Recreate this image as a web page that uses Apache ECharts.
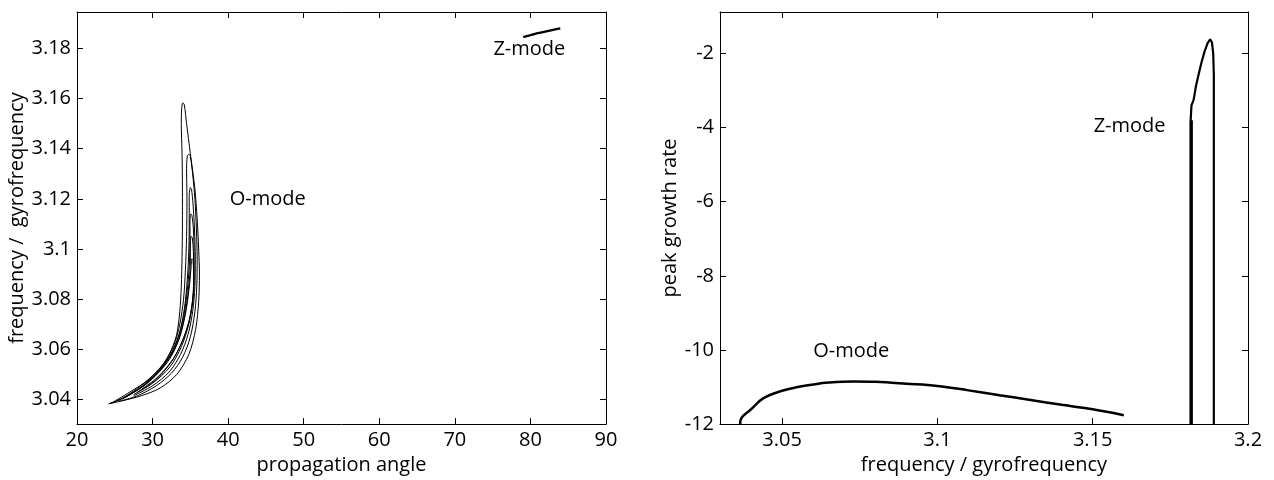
<!DOCTYPE html>
<html>
<head>
<meta charset="utf-8">
<script src="https://cdn.jsdelivr.net/npm/echarts@6/dist/echarts.min.js"></script>
<style>
html,body{margin:0;padding:0;background:#fff;}
#chart{width:1274px;height:480px;}
</style>
</head>
<body>
<div id="chart"></div>
<script>
// ---------- tick labels ----------
const leftXTicks = [20, 30, 40, 50, 60, 70, 80, 90];
const leftYTicks = [3.04, 3.06, 3.08, 3.1, 3.12, 3.14, 3.16, 3.18];
const rightXTicks = [3.05, 3.1, 3.15, 3.2];
const rightYTicks = [-12, -10, -8, -6, -4, -2];

// ---------- left panel: propagation angle vs frequency ----------
const oLoop1 = [[24.2,3.0383],[26,3.0405],[28,3.0445],[30,3.0495],[31.5,3.0545],[32.5,3.0600],[33.2,3.0660],[33.6,3.0750],[33.8,3.0850],[33.9,3.0970],[33.95,3.1100],[33.95,3.1240],[33.9,3.1380],[33.8,3.1500],[33.85,3.1560],[34.0,3.1583],
  [34.2,3.1575],[34.5,3.1500],[35.0,3.1380],[35.6,3.1240],[35.9,3.1120],[36.1,3.1000],[36.2,3.0900],[36.1,3.0790],[35.7,3.0680],[34.8,3.0580],[33.2,3.0500],[31.0,3.0446],[28.5,3.0415],[26,3.0395],[24.2,3.0383]];
const oLoop2 = [[24.5,3.0385],[27,3.043],[29.5,3.048],[31.5,3.0545],[32.8,3.0615],[33.6,3.0700],[34.1,3.0800],[34.35,3.0920],[34.5,3.1050],[34.55,3.1200],[34.5,3.1320],[34.6,3.1370],[34.8,3.1378],
  [35.0,3.1370],[35.3,3.1300],[35.6,3.1200],[35.8,3.1080],[35.9,3.0960],[35.85,3.0850],[35.6,3.0750],[35.0,3.0650],[34.0,3.0570],[32.5,3.0505],[30.5,3.0455],[28,3.0415],[25.5,3.0392]];
const oLoop3 = [[25,3.039],[28,3.044],[30.5,3.0505],[32.3,3.0575],[33.5,3.0660],[34.2,3.0760],[34.6,3.0880],[34.8,3.1000],[34.85,3.1120],[34.85,3.1210],[35.0,3.1245],
  [35.15,3.1238],[35.35,3.1180],[35.55,3.1080],[35.65,3.0960],[35.6,3.0850],[35.3,3.0750],[34.7,3.0660],[33.7,3.0580],[32.2,3.0510],[30,3.0455],[27.5,3.0415]];
const oLoop4 = [[25.5,3.0395],[28.5,3.0448],[31,3.052],[32.8,3.060],[33.9,3.070],[34.5,3.0810],[34.85,3.0930],[34.95,3.1040],[34.95,3.1110],[35.05,3.1140],
  [35.2,3.1135],[35.4,3.1080],[35.5,3.0980],[35.5,3.0880],[35.25,3.0780],[34.7,3.0690],[33.8,3.0610],[32.3,3.0530],[30,3.0465],[27.5,3.042]];
const oLoop5 = [[26,3.0402],[29,3.0458],[31.5,3.0535],[33.2,3.062],[34.2,3.0725],[34.75,3.0840],[35.0,3.0950],[35.0,3.1020],[35.1,3.1051],
  [35.25,3.1045],[35.4,3.0990],[35.45,3.0900],[35.3,3.0800],[34.8,3.0710],[33.9,3.0630],[32.5,3.0550],[30.3,3.0475],[28,3.043]];
const oLoop6 = [[26.5,3.041],[29.5,3.047],[32,3.055],[33.5,3.0640],[34.4,3.0750],[34.9,3.0860],[35.1,3.0930],[35.2,3.0961],
  [35.35,3.0955],[35.45,3.0890],[35.35,3.0800],[34.9,3.0720],[34.1,3.0645],[32.8,3.0565],[30.7,3.0490],[28.5,3.0440]];
const zModeLeft = [[79.05,3.1845],[80.5,3.1857],[81.5,3.1864],[83,3.1874],[83.95,3.1880]];

// ---------- right panel: frequency vs peak growth rate ----------
const oModeRight = [[3.0365,-12.0],[3.0368,-11.85],[3.040,-11.6],[3.044,-11.3],[3.050,-11.1],[3.055,-11.0],[3.060,-10.93],[3.065,-10.88],[3.073,-10.85],[3.080,-10.86],[3.090,-10.91],[3.100,-10.97],[3.110,-11.09],[3.120,-11.22],[3.130,-11.35],[3.140,-11.48],[3.150,-11.6],[3.160,-11.76]];
const zModeRight = [[3.1815,-12],[3.1815,-3.85],[3.1818,-3.4],[3.1825,-3.25],[3.1832,-2.9],[3.184,-2.6],[3.185,-2.25],[3.186,-1.95],[3.187,-1.72],[3.1878,-1.62],[3.1884,-1.7],[3.1888,-2.0],[3.189,-2.6],[3.189,-12]];
const zModeRightEdge = [[3.1819,-12],[3.1819,-3.8]];

const FONT = 'Open Sans';
const FS = 20;
const chart = echarts.init(document.getElementById('chart'), null, {renderer:'canvas'});

function trimNum(v){ return String(+v.toFixed(4)); }

function axisCommon(extra){
  return Object.assign({
    type:'value',
    axisLine:{show:true, onZero:false, lineStyle:{color:'#000', width:1}},
    axisTick:{show:true, inside:true, length:6, lineStyle:{color:'#000', width:1}},
    splitLine:{show:false},
    axisLabel:{color:'#000', fontFamily:FONT, fontSize:FS, margin:6, formatter:trimNum}
  }, extra);
}

function mk(extra, ticks, showLabel){
  const a = axisCommon(extra);
  a.axisTick = Object.assign({}, a.axisTick, {customValues: ticks});
  a.axisLabel = Object.assign({}, a.axisLabel, {show: showLabel, customValues: ticks});
  return a;
}

const nameStyle = {color:'#000', fontFamily:FONT, fontSize:FS};

const option = {
  animation:false,
  backgroundColor:'#fff',
  grid:[
    {left:77, top:12, width:529, height:415},
    {left:720, top:12, width:528, height:415}
  ],
  xAxis:[
    Object.assign(mk({gridIndex:0, position:'bottom', min:20, max:90}, leftXTicks, true),
      {name:'propagation angle', nameLocation:'middle', nameGap:30, nameTextStyle:nameStyle}),
    mk({gridIndex:0, position:'top', min:20, max:90}, leftXTicks, false),
    Object.assign(mk({gridIndex:1, position:'bottom', min:3.03, max:3.2}, rightXTicks, true),
      {name:'frequency / gyrofrequency', nameLocation:'middle', nameGap:30, nameTextStyle:nameStyle}),
    mk({gridIndex:1, position:'top', min:3.03, max:3.2}, rightXTicks, false)
  ],
  yAxis:[
    Object.assign(mk({gridIndex:0, position:'left', min:3.0302, max:3.1945}, leftYTicks, true),
      {name:'frequency /  gyrofrequency', nameLocation:'middle', nameGap:36, nameTextStyle:nameStyle}),
    mk({gridIndex:0, position:'right', min:3.0302, max:3.1945}, leftYTicks, false),
    Object.assign(mk({gridIndex:1, position:'left', min:-12, max:-0.88}, rightYTicks, true),
      {name:'peak growth rate', nameLocation:'middle', nameGap:36, nameTextStyle:nameStyle}),
    mk({gridIndex:1, position:'right', min:-12, max:-0.88}, rightYTicks, false)
  ],
  series:[]
};

function line(data, xi, yi, w){
  return {type:'line', xAxisIndex:xi, yAxisIndex:yi, data:data, showSymbol:false, smooth:0.3,
    lineStyle:{color:'#000', width:w}, itemStyle:{color:'#000'}, silent:true, z:3};
}
[oLoop1,oLoop2,oLoop3,oLoop4,oLoop5,oLoop6].forEach(d=>option.series.push(line(d,0,0,1)));
option.series.push(line(zModeLeft,0,0,2.2));
option.series.push(Object.assign(line(oModeRight,2,2,2.5),{smooth:0.4}));
option.series.push(Object.assign(line(zModeRight,2,2,2.2),{smooth:false}));
option.series.push(Object.assign(line(zModeRightEdge,2,2,2.2),{smooth:false}));

function note(text, xi, yi, pt){
  return {type:'scatter', xAxisIndex:xi, yAxisIndex:yi, symbolSize:0, data:[pt], silent:true,
    itemStyle:{opacity:1, color:'#000'},
    label:{show:true, position:'right', distance:0, formatter:text, color:'#000', opacity:1, fontFamily:FONT, fontSize:FS}};
}
option.series.push(note('O-mode',0,0,[40.2,3.12]));
option.series.push(note('Z-mode',0,0,[75.1,3.1796]));
option.series.push(note('Z-mode',2,2,[3.1503,-3.96]));
option.series.push(note('O-mode',2,2,[3.06,-10.03]));

chart.setOption(option);
</script>
</body>
</html>
